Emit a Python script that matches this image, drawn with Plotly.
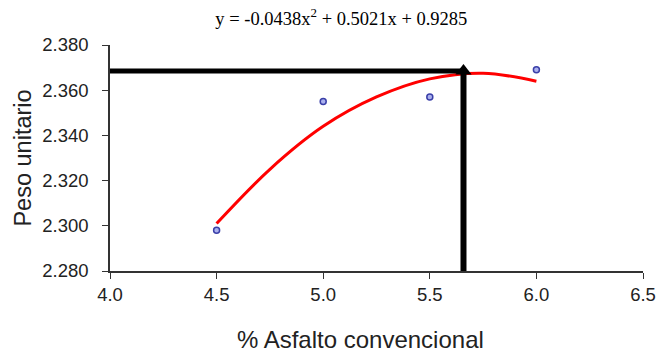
import plotly.graph_objects as go

# measured data points
asfalto = [4.5, 5.0, 5.5, 6.0]
peso = [2.298, 2.355, 2.357, 2.369]

# trendline
trend_x = [4.5, 4.75, 5.0, 5.25, 5.5, 5.75, 6.0]
trend_y = [2.301, 2.325, 2.344, 2.357, 2.365, 2.3675, 2.364]

# optimum guide lines
opt_x = 5.658
opt_y = 2.3685
x_min = 4.0
y_min = 2.280

x_ticks = [4.0, 4.5, 5.0, 5.5, 6.0, 6.5]
x_ticklabels = ["4.0", "4.5", "5.0", "5.5", "6.0", "6.5"]
y_ticks = [2.28, 2.30, 2.32, 2.34, 2.36, 2.38]
y_ticklabels = ["2.280", "2.300", "2.320", "2.340", "2.360", "2.380"]

fig = go.Figure()

# trendline
fig.add_trace(go.Scatter(x=trend_x, y=trend_y, mode="lines",
                         line=dict(color="#ff0000", width=3, shape="spline"),
                         showlegend=False))

# horizontal guide
fig.add_trace(go.Scatter(x=[x_min, opt_x], y=[opt_y, opt_y], mode="lines",
                         line=dict(color="black", width=5), cliponaxis=False,
                         hoverinfo="skip", showlegend=False))
# vertical guide with arrow tip
fig.add_trace(go.Scatter(x=[opt_x, opt_x], y=[y_min, opt_y], mode="lines+markers",
                         line=dict(color="black", width=6),
                         marker=dict(symbol="triangle-up", size=[0, 14], color="black",
                                     opacity=1, line=dict(width=0)),
                         cliponaxis=False, hoverinfo="skip", showlegend=False))

# data points
fig.add_trace(go.Scatter(x=asfalto, y=peso, mode="markers",
                         marker=dict(symbol="circle", size=6, color="#aab0ee",
                                     line=dict(color="#3a3fa8", width=1.5)),
                         showlegend=False, cliponaxis=False))

fig.update_layout(
    width=668, height=356,
    margin=dict(l=109.5, r=17.5, t=44.7, b=85.3),
    paper_bgcolor="white", plot_bgcolor="white",
    font=dict(family="Liberation Sans, Arial, sans-serif", color="#222222"),
    title=dict(text="y = -0.0438x<sup>2</sup> + 0.5021x + 0.9285",
               x=0.511, xanchor="center", y=0.949, yanchor="middle",
               font=dict(family="Liberation Serif, Times New Roman, serif", size=18.5, color="black")),
    annotations=[dict(text="% Asfalto convencional", xref="paper", yref="paper",
                      x=0.4704, y=-0.302, xanchor="center", yanchor="middle",
                      showarrow=False, font=dict(size=24, color="#222222"))],
)

fig.update_xaxes(range=[4.0, 6.5], tickvals=x_ticks, ticktext=x_ticklabels,
                 showgrid=False, zeroline=False, showline=True, linecolor="#333333",
                 linewidth=1.5, ticks="outside", ticklen=6, tickcolor="#333333",
                 tickfont=dict(size=18.5, color="#222222"))
fig.update_yaxes(range=[2.28, 2.38], tickvals=y_ticks, ticktext=y_ticklabels,
                 showgrid=False, zeroline=False, showline=True, linecolor="#333333",
                 linewidth=1.5, ticks="outside", ticklen=6, tickcolor="#333333",
                 ticklabelstandoff=10,
                 tickfont=dict(size=18.5, color="#222222"),
                 title=dict(text="Peso unitario", font=dict(size=23.5, color="#222222"), standoff=4))

fig.write_html("out.html")
